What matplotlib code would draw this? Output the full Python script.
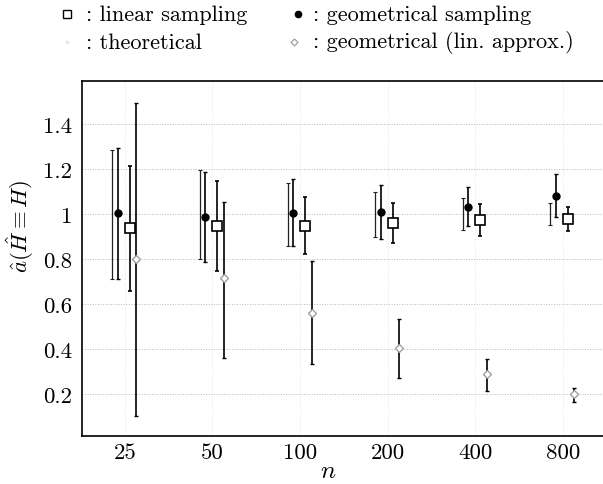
import matplotlib
matplotlib.use('Agg')
import matplotlib.pyplot as plt
import numpy as np
from matplotlib.lines import Line2D

plt.rcParams['font.family'] = ['cmr10', 'DejaVu Serif']
plt.rcParams['mathtext.fontset'] = 'cm'
plt.rcParams['axes.unicode_minus'] = False

# sample sizes (categorical, log2 spaced)
n_labels = ['25', '50', '100', '200', '400', '800']

# theoretical interval (no centre marker)
theo_lo = [0.71, 0.80, 0.858, 0.899, 0.929, 0.95]
theo_hi = [1.284, 1.196, 1.136, 1.099, 1.07, 1.05]

# geometrical sampling
geo_mid = [1.003, 0.988, 1.003, 1.010, 1.033, 1.081]
geo_lo = [0.712, 0.788, 0.858, 0.887, 0.947, 0.985]
geo_hi = [1.292, 1.185, 1.154, 1.129, 1.121, 1.176]

# linear sampling
lin_mid = [0.939, 0.948, 0.948, 0.958, 0.973, 0.976]
lin_lo = [0.658, 0.748, 0.821, 0.870, 0.902, 0.924]
lin_hi = [1.215, 1.147, 1.077, 1.047, 1.043, 1.030]

# geometrical (lin. approx.)
apx_mid = [0.80, 0.714, 0.561, 0.403, 0.288, 0.199]
apx_lo = [0.102, 0.359, 0.332, 0.273, 0.215, 0.166]
apx_hi = [1.495, 1.055, 0.791, 0.533, 0.354, 0.225]

y_ticks = [0.2, 0.4, 0.6, 0.8, 1.0, 1.2, 1.4]
y_ticklabels = ['0.2', '0.4', '0.6', '0.8', '1', '1.2', '1.4']

x = np.arange(len(n_labels))

fig = plt.figure(figsize=(6.03, 4.85), dpi=100)
ax = fig.add_axes([82 / 603, 48 / 485, 521 / 603, 355 / 485])


def err(mid, lo, hi):
    mid = np.array(mid)
    return [mid - np.array(lo), np.array(hi) - mid]


ekw = dict(ecolor='black', elinewidth=1.2, capsize=1.6, capthick=1.0)

tmid = (np.array(theo_lo) + np.array(theo_hi)) / 2
ax.errorbar(x - 0.143, tmid, yerr=err(tmid, theo_lo, theo_hi), fmt='none',
            ecolor='#222222', elinewidth=0.9, capsize=1.6, capthick=0.8)

ax.errorbar(x - 0.08, geo_mid, yerr=err(geo_mid, geo_lo, geo_hi), fmt='o',
            color='black', markersize=5, **ekw)

ax.errorbar(x + 0.057, lin_mid, yerr=err(lin_mid, lin_lo, lin_hi), fmt='s',
            mfc='white', mec='black', mew=1.2, markersize=6.8, **ekw)

ax.errorbar(x + 0.131, apx_mid, yerr=err(apx_mid, apx_lo, apx_hi), fmt='none', **ekw)
ax.plot(x + 0.131, apx_mid, 'D', mfc='white', mec='#a0a0a0', mew=1.0,
        markersize=4, linestyle='none', zorder=5)

ax.set_xlim(-0.49, 5.46)
ax.set_ylim(0.013, 1.591)
ax.set_xticks(x)
ax.set_xticklabels(n_labels)
ax.set_yticks(y_ticks)
ax.set_yticklabels(y_ticklabels)
ax.tick_params(length=0, labelsize=16.5)
ax.tick_params(axis='y', pad=7)
ax.tick_params(axis='x', pad=5)
ax.grid(axis='y', linestyle=':', color='0.72', linewidth=0.7)
ax.grid(axis='x', linestyle=':', color='0.88', linewidth=0.6)
ax.set_axisbelow(True)
ax.spines['right'].set_visible(False)
for s in ['left', 'top', 'bottom']:
    ax.spines[s].set_linewidth(1.2)

ax.set_xlabel('$n$', fontsize=18)
ax.xaxis.set_label_coords(0.472, -0.066)
ax.set_ylabel(r'$\hat{a}(\hat{H} \equiv H)$', fontsize=16.5)
ax.yaxis.set_label_coords(-0.088, 0.595)

# legend drawn in figure pixels
def fx(px):
    return px / 603


def fy(py):
    return 1 - py / 485


leg_size = 16
fig.add_artist(Line2D([fx(67)], [fy(15)], marker='s', mfc='white', mec='black',
                      mew=1.0, markersize=5.5, transform=fig.transFigure))
fig.text(fx(86), fy(15), ': linear sampling', fontsize=leg_size, va='center')
fig.add_artist(Line2D([fx(67)], [fy(43)], marker='.', color='0.9',
                      markersize=3, transform=fig.transFigure))
fig.text(fx(86), fy(43), ': theoretical', fontsize=leg_size, va='center')
fig.add_artist(Line2D([fx(298)], [fy(15)], marker='o', color='black',
                      markersize=4.5, transform=fig.transFigure))
fig.text(fx(313), fy(15), ': geometrical sampling', fontsize=leg_size, va='center')
fig.add_artist(Line2D([fx(294)], [fy(43)], marker='D', mfc='white', mec='#a0a0a0',
                      mew=0.9, markersize=3.5, transform=fig.transFigure))
fig.text(fx(313), fy(43), ': geometrical (lin. approx.)', fontsize=leg_size, va='center')

fig.savefig('out.png', dpi=100)
